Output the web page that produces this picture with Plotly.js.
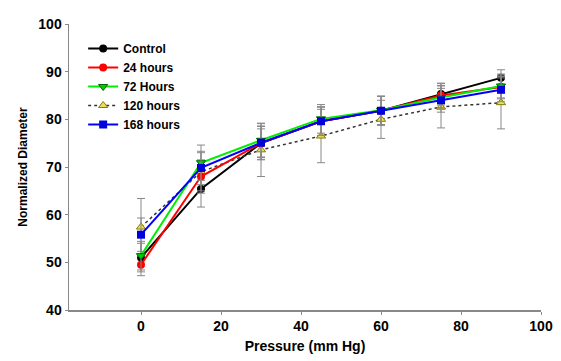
<!DOCTYPE html>
<html><head><meta charset="utf-8">
<script src="https://cdn.plot.ly/plotly-3.0.1.min.js"></script>
<style>html,body{margin:0;padding:0;background:#fff}#chart{width:561px;height:361px}</style>
</head><body><div id="chart"></div>
<script>
const pressure = [0, 15, 30, 45, 60, 75, 90];
const seriesNames = ["Control", "24 hours", "72 Hours", "120 hours", "168 hours"];
const control = [51.0, 65.4, 75.0, 79.6, 81.8, 85.3, 88.7];
const h24 = [49.5, 68.0, 75.0, 79.6, 81.8, 85.0, 86.8];
const h72 = [51.4, 70.9, 75.6, 80.1, 81.9, 84.6, 87.0];
const h120 = [57.4, 69.0, 73.6, 76.5, 80.0, 82.6, 83.5];
const h168 = [55.8, 69.8, 75.1, 79.6, 81.8, 84.0, 86.2];
const controlErr = [3.0, 3.8, 3.5, 3.0, 3.0, 2.3, 1.7];
const h24Err = [2.3, 3.5, 3.0, 3.0, 3.0, 2.5, 2.5];
const h72Err = [3.0, 3.7, 3.5, 3.0, 3.0, 2.5, 2.5];
const h120Err = [6.0, 4.0, 5.6, 5.6, 4.0, 4.4, 5.5];
const h168Err = [3.5, 3.5, 3.5, 3.0, 3.0, 2.5, 2.5];
const yTickVals = [40, 50, 60, 70, 80, 90, 100];
const xTickVals = [0, 20, 40, 60, 80, 100];

const values = [control, h24, h72, h120, h168];
const errs = [controlErr, h24Err, h72Err, h120Err, h168Err];
const styles = [
  {line: {color: '#000000', width: 2}, marker: {symbol: 'circle', color: '#000000', size: 8}},
  {line: {color: '#ff0000', width: 2}, marker: {symbol: 'circle', color: '#ff0000', size: 8}},
  {line: {color: '#00ee00', width: 2}, marker: {symbol: 'triangle-down', color: '#00cc00', size: 8, line: {color: '#006600', width: 1}}},
  {line: {color: '#333333', width: 1.5, dash: 'dot'}, marker: {symbol: 'triangle-up', color: '#e8e060', size: 8, line: {color: '#8a7a00', width: 1}}},
  {line: {color: '#0000ff', width: 2}, marker: {symbol: 'square', color: '#0000dd', size: 8}}
];
const drawOrder = [0, 3, 1, 2, 4];
const traces = drawOrder.map(i => ({
  x: pressure, y: values[i], name: seriesNames[i], type: 'scatter', mode: 'lines+markers',
  line: styles[i].line, marker: styles[i].marker, legendrank: i + 1,
  error_y: {type: 'data', array: errs[i], visible: true, color: '#888888', thickness: 1, width: 4}
}));

const fam = 'Arial, "Liberation Sans", sans-serif';
const layout = {
  width: 561, height: 361,
  margin: {l: 69, r: 20, t: 24, b: 51},
  paper_bgcolor: '#fff', plot_bgcolor: '#fff',
  showlegend: true,
  legend: {x: 0.03, y: 0.965, xanchor: 'left', yanchor: 'top', bgcolor: 'rgba(0,0,0,0)',
    font: {family: fam, size: 12, color: '#000', weight: 'bold'}, tracegroupgap: 0},
  xaxis: {range: [-18, 100], tickvals: xTickVals, showgrid: false, zeroline: false,
    showline: true, linecolor: '#888', linewidth: 1.5, ticks: 'outside', ticklen: 3, tickcolor: '#888',
    tickfont: {family: fam, size: 14, color: '#000', weight: 'bold'},
    title: {text: 'Pressure (mm Hg)', font: {family: fam, size: 14, color: '#000', weight: 'bold'}, standoff: 8}},
  yaxis: {range: [40, 100], tickvals: yTickVals, showgrid: false, zeroline: false,
    showline: true, linecolor: '#888', linewidth: 1.5, ticks: 'outside', ticklen: 3, tickcolor: '#888',
    tickfont: {family: fam, size: 14, color: '#000', weight: 'bold'},
    title: {text: 'Normalized Diameter', font: {family: fam, size: 12, color: '#000', weight: 'bold'}, standoff: 8}}
};
Plotly.newPlot('chart', traces, layout, {displayModeBar: false, staticPlot: true});
</script></body></html>
